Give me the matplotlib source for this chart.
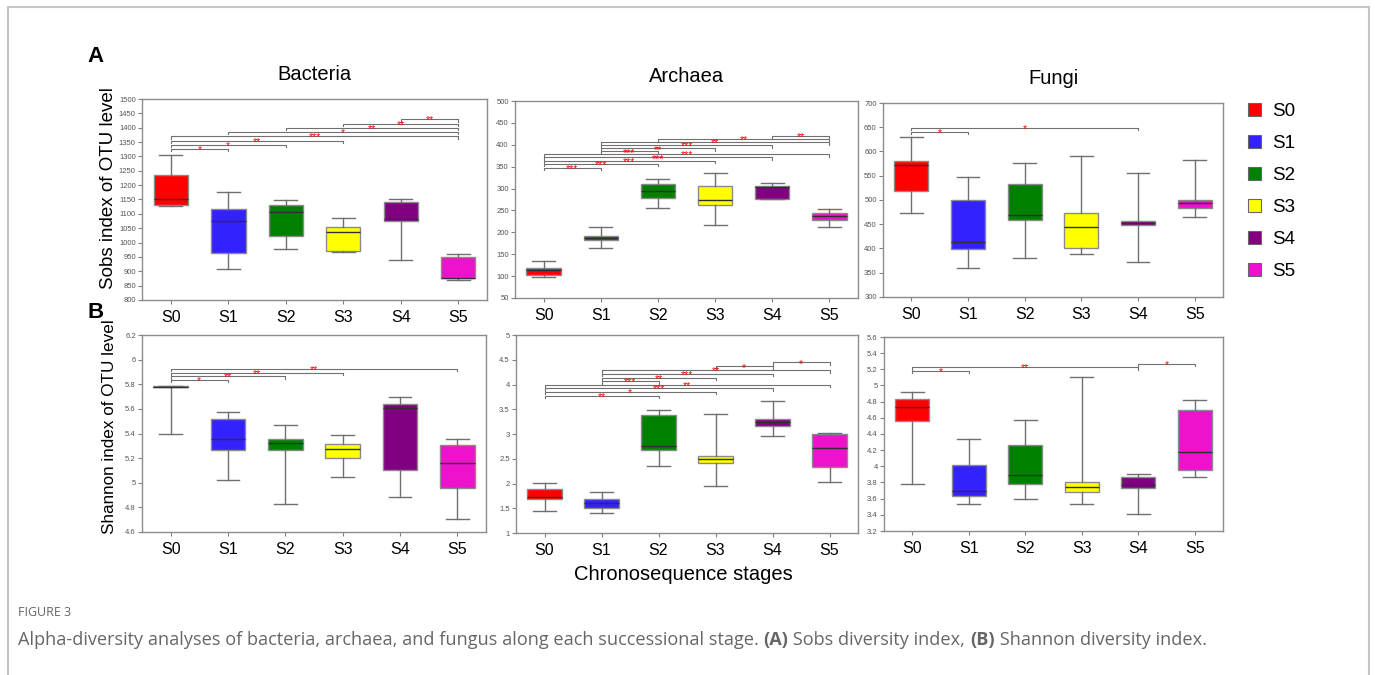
import matplotlib
matplotlib.use("Agg")
import matplotlib.pyplot as plt
from matplotlib.patches import Patch, Rectangle
from matplotlib.ticker import MultipleLocator, FuncFormatter

plt.rcParams['font.family'] = ['Liberation Sans', 'DejaVu Sans']

stages = ['S0', 'S1', 'S2', 'S3', 'S4', 'S5']
colors = ['#ff0000', '#3322ff', '#008000', '#ffff00', '#800080', '#ee12cc']

# box stats per stage: (whisker low, q1, median, q3, whisker high)
bac_sobs = [(1128, 1130, 1152, 1234, 1304), (907, 962, 1075, 1116, 1177),
            (976, 1024, 1105, 1131, 1147), (966, 972, 1036, 1055, 1087),
            (938, 1074, 1082, 1140, 1150), (870, 876, 878, 951, 960)]
arc_sobs = [(98, 103, 115, 118, 134), (164, 182, 188, 192, 212),
            (256, 278, 294, 310, 322), (217, 263, 273, 306, 335),
            (276, 276, 304, 305, 313), (212, 229, 237, 244, 253)]
fun_sobs = [(473, 519, 573, 581, 630), (360, 399, 414, 500, 548),
            (381, 459, 470, 534, 577), (389, 402, 445, 474, 591),
            (372, 448, 452, 456, 555), (464, 484, 494, 500, 583)]
bac_shan = [(5.395, 5.776, 5.78, 5.786, 5.786), (5.02, 5.264, 5.354, 5.517, 5.574),
            (4.831, 5.264, 5.321, 5.359, 5.473), (5.045, 5.197, 5.273, 5.311, 5.386),
            (4.887, 5.102, 5.606, 5.641, 5.696), (4.706, 4.955, 5.161, 5.308, 5.359)]
arc_shan = [(1.44, 1.68, 1.73, 1.88, 2.01), (1.413, 1.50, 1.596, 1.684, 1.833),
            (2.36, 2.685, 2.76, 3.389, 3.49), (1.948, 2.415, 2.49, 2.563, 3.41),
            (2.963, 3.16, 3.247, 3.30, 3.66), (2.029, 2.34, 2.726, 3.003, 3.024)]
fun_shan = [(3.786, 4.565, 4.738, 4.829, 4.924), (3.538, 3.637, 3.699, 4.012, 4.342),
            (3.60, 3.786, 3.889, 4.264, 4.569), (3.53, 3.682, 3.749, 3.81, 5.109),
            (3.41, 3.728, 3.765, 3.868, 3.905), (3.872, 3.955, 4.181, 4.697, 4.821)]

# significance brackets: (stage a, stage b, height, label)
bac_sobs_sig = [(0, 1, 1326, '*'), (0, 2, 1341, '*'), (0, 3, 1355, '**'), (0, 5, 1370, '***'),
                (1, 5, 1385, '*'), (2, 5, 1399, '**'), (3, 5, 1414, '**'), (4, 5, 1430, '**')]
arc_sobs_sig = [(0, 1, 348, '***'), (0, 2, 356, '***'), (0, 3, 363.5, '***'), (0, 4, 371, '***'),
                (0, 5, 378.6, '***'), (1, 2, 384.7, '***'), (1, 3, 391.5, '**'), (1, 4, 399, '***'),
                (1, 5, 406, '**'), (2, 5, 413, '**'), (4, 5, 420, '**')]
fun_sobs_sig = [(0, 1, 641, '*'), (0, 4, 648.5, '*')]
bac_shan_sig = [(0, 1, 5.834, '*'), (0, 2, 5.864, '**'), (0, 3, 5.894, '**'), (0, 5, 5.923, '**')]
arc_shan_sig = [(0, 2, 3.775, '**'), (0, 3, 3.85, '*'), (0, 4, 3.924, '***'), (0, 5, 4.0, '**'),
                (1, 2, 4.066, '***'), (1, 3, 4.14, '**'), (1, 4, 4.22, '***'), (1, 5, 4.29, '**'),
                (3, 4, 4.364, '*'), (4, 5, 4.445, '*')]
fun_shan_sig = [(0, 1, 5.183, '*'), (0, 4, 5.225, '**'), (4, 5, 5.266, '*')]

W, H = 1375, 675
fig = plt.figure(figsize=(W / 100, H / 100), dpi=100)

# panel rectangles in pixels (left, top, right, bottom)
panels = [
    ((142, 99, 487, 300), bac_sobs, bac_sobs_sig, (800, 1500), 50, 'Bacteria'),
    ((515, 101, 858, 298), arc_sobs, arc_sobs_sig, (50, 500), 50, 'Archaea'),
    ((883, 103, 1223, 297), fun_sobs, fun_sobs_sig, (300, 700), 50, 'Fungi'),
    ((142, 335, 486, 532), bac_shan, bac_shan_sig, (4.6, 6.2), 0.2, None),
    ((516, 335, 858, 533), arc_shan, arc_shan_sig, (1, 5), 0.5, None),
    ((884, 337, 1223, 531), fun_shan, fun_shan_sig, (3.2, 5.6), 0.2, None),
]

axes = []
for (l, t, r, b), stats, sig, ylim, step, title in panels:
    ax = fig.add_axes([l / W, 1 - b / H, (r - l) / W, (b - t) / H])
    axes.append(ax)
    bx = [dict(whislo=s[0], q1=s[1], med=s[2], q3=s[3], whishi=s[4], fliers=[]) for s in stats]
    art = ax.bxp(bx, positions=range(6), widths=0.6, capwidths=0.4, patch_artist=True,
                 showfliers=False,
                 boxprops=dict(edgecolor='#8a8a8a', linewidth=1),
                 whiskerprops=dict(color='#707070', linewidth=1),
                 capprops=dict(color='#707070', linewidth=1),
                 medianprops=dict(color='#303030', linewidth=1))
    for patch, c in zip(art['boxes'], colors):
        patch.set_facecolor(c)
    rng = ylim[1] - ylim[0]
    tick = rng * 0.012
    for a, bb, h, lab in sig:
        ax.plot([a, a, bb, bb], [h - tick, h, h, h - tick], color='#707070', lw=0.8)
        ax.annotate(lab, ((a + bb) / 2, h), xytext=(0, -3.0), textcoords='offset points',
                    ha='center', va='baseline', fontsize=7.5, color='#ff0000')
    ax.set_xlim(-0.5, 5.5)
    ax.set_ylim(*ylim)
    ax.yaxis.set_major_locator(MultipleLocator(step))
    ax.yaxis.set_major_formatter(FuncFormatter(lambda v, p: f'{v:g}'))
    ax.set_xticks(range(6))
    ax.set_xticklabels(stages, fontsize=11.5)
    ax.tick_params(axis='y', labelsize=5.5, labelcolor='#555555', length=3, color='#808080', pad=1.5)
    ax.tick_params(axis='x', length=3, color='#808080', pad=4)
    for sp in ax.spines.values():
        sp.set_color('#8c8c8c')
        sp.set_linewidth(1)
    if title:
        ax.set_title(title, fontsize=14.5, pad=14)

axes[0].set_ylabel('Sobs index of OTU level', fontsize=13.5)
axes[0].yaxis.set_label_coords(-0.072, 0.557)
axes[3].set_ylabel('Shannon index of OTU level', fontsize=12.3)
axes[3].yaxis.set_label_coords(-0.073, 0.533)

fig.text(96 / W, 1 - 57 / H, 'A', fontsize=16, fontweight='bold', ha='center', va='center')
fig.text(96 / W, 1 - 312 / H, 'B', fontsize=16, fontweight='bold', ha='center', va='center')
fig.text(683 / W, 1 - 575 / H, 'Chronosequence stages', fontsize=14.5, ha='center', va='center')

handles = [Patch(facecolor=c, edgecolor='#666666', linewidth=0.8) for c in colors]
fig.legend(handles, stages, loc='upper left', bbox_to_anchor=(1240 / W, 1 - 95 / H),
           frameon=False, fontsize=13.5, handlelength=0.7, handleheight=0.7,
           labelspacing=0.8, handletextpad=0.6, borderaxespad=0)

# outer frame of the figure box
fig.patches.append(Rectangle((8 / W, -0.05), (1369 - 8) / W, 1.05 - 7 / H,
                             transform=fig.transFigure, fill=False,
                             edgecolor='#c4c4c4', linewidth=1.5))

fig.text(18 / W, 1 - 612 / H, 'FIGURE 3', fontsize=9, color='#666666',
         family=['Open Sans', 'DejaVu Sans'], va='center')

caption = [('Alpha-diversity analyses of bacteria, archaea, and fungus along each successional stage. ', 'normal'),
           ('(A)', 'bold'), (' Sobs diversity index, ', 'normal'), ('(B)', 'bold'),
           (' Shannon diversity index.', 'normal')]
renderer = fig.canvas.get_renderer()
x = 18 / W
for s, wt in caption:
    t = fig.text(x, 1 - 640 / H, s, fontsize=13.1, color='#666666', fontweight=wt,
                 family=['Open Sans', 'DejaVu Sans'], va='center')
    x += t.get_window_extent(renderer).width / W

fig.savefig('out.png', dpi=100)
